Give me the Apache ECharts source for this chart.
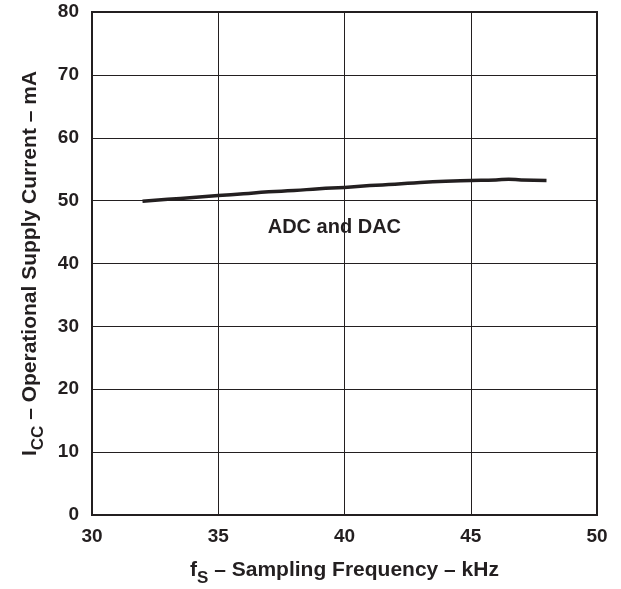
<!DOCTYPE html>
<html>
<head>
<meta charset="utf-8">
<script src="https://cdn.jsdelivr.net/npm/echarts@6/dist/echarts.min.js"></script>
<style>
  html, body { margin: 0; padding: 0; background: #fff; }
  #chart { width: 621px; height: 589px; }
</style>
</head>
<body>
<div id="chart"></div>
<script>
// Supply current versus sampling frequency (ADC and DAC running)
const freqKHz = [32, 33, 34, 35, 36, 37, 38, 39, 40, 41, 42, 43, 44, 45, 46, 46.5, 47, 48];
const currentMA = [49.9, 50.2, 50.5, 50.8, 51.1, 51.4, 51.6, 51.9, 52.1, 52.4, 52.6, 52.9, 53.1, 53.2, 53.3, 53.4, 53.3, 53.2];
const xTicks = [30, 35, 40, 45, 50];
const yTicks = [0, 10, 20, 30, 40, 50, 60, 70, 80];
const curveLabel = 'ADC and DAC';

const FONT = '"Liberation Sans", Arial, Helvetica, sans-serif';
const INK = '#231f20';

const chart = echarts.init(document.getElementById('chart'), null, { renderer: 'canvas' });

const nameRich = {
  m: { fontFamily: FONT, fontWeight: 'bold', fontSize: 21, color: INK, lineHeight: 22, verticalAlign: 'middle' },
  s: { fontFamily: FONT, fontWeight: 'bold', fontSize: 17, color: INK, lineHeight: 34, verticalAlign: 'bottom' }
};

chart.setOption({
  animation: false,
  backgroundColor: '#fff',
  grid: {
    left: 92, right: 24, top: 12, bottom: 74,
    outerBoundsMode: 'none',
    containLabel: false,
    show: true, borderColor: INK, borderWidth: 2, backgroundColor: 'transparent'
  },
  xAxis: {
    type: 'value',
    min: xTicks[0], max: xTicks[xTicks.length - 1], interval: 5,
    axisLine: { show: true, lineStyle: { color: INK, width: 2 } },
    axisTick: { show: false },
    splitLine: { show: true, lineStyle: { color: INK, width: 1 } },
    axisLabel: { fontFamily: FONT, fontWeight: 'bold', fontSize: 19, color: INK, margin: 12 },
    name: '{m|f}{s|S}{m| – Sampling Frequency – kHz}',
    nameLocation: 'middle',
    nameGap: 38,
    nameMoveOverlap: false,
    nameTextStyle: { rich: nameRich }
  },
  yAxis: {
    type: 'value',
    min: yTicks[0], max: yTicks[yTicks.length - 1], interval: 10,
    axisLine: { show: true, lineStyle: { color: INK, width: 2 } },
    axisTick: { show: false },
    splitLine: { show: true, lineStyle: { color: INK, width: 1 } },
    axisLabel: { fontFamily: FONT, fontWeight: 'bold', fontSize: 19, color: INK, margin: 13 },
    name: '{m|I}{s|CC}{m| – Operational Supply Current – mA}',
    nameLocation: 'middle',
    nameGap: 36,
    nameRotate: 90,
    nameTextStyle: { rich: nameRich }
  },
  series: [{
    type: 'line',
    data: freqKHz.map((f, i) => [f, currentMA[i]]),
    showSymbol: false,
    smooth: true,
    lineStyle: { color: INK, width: 3.5 },
    z: 5
  }]
});

// Curve label, placed in data coordinates below the curve near 40 kHz
const labelPos = chart.convertToPixel({ gridIndex: 0 }, [39.6, 45.7]);
chart.setOption({
  graphic: [{
    type: 'text',
    x: labelPos[0],
    y: labelPos[1],
    style: {
      text: curveLabel,
      fill: INK,
      font: 'bold 20px ' + FONT,
      align: 'center',
      verticalAlign: 'middle'
    }
  }]
});
</script>
</body>
</html>
